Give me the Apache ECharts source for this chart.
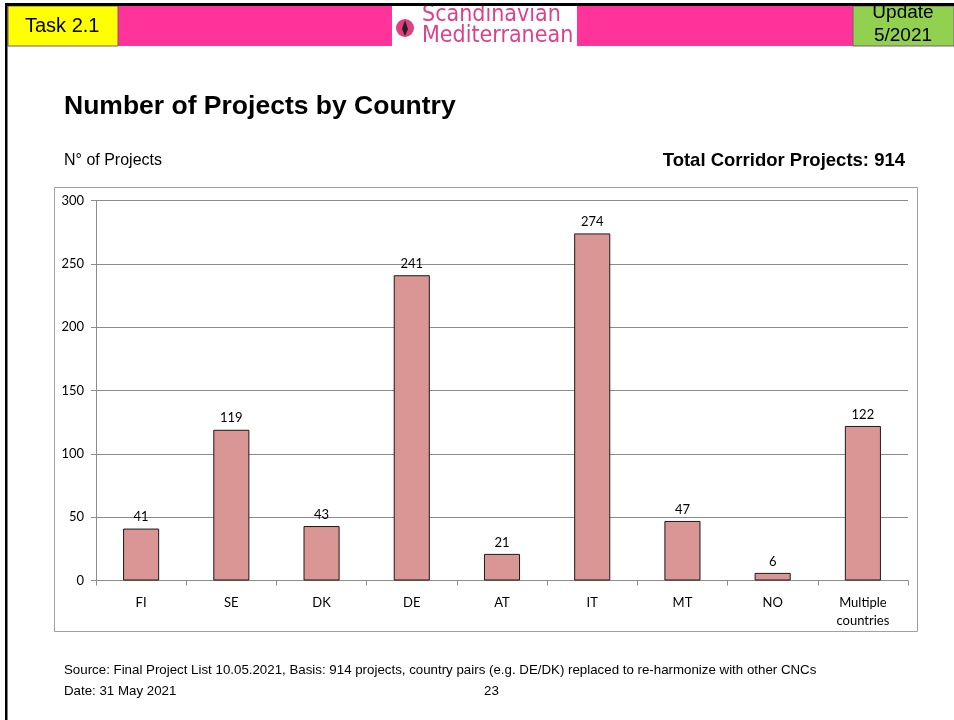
<!DOCTYPE html>
<html>
<head>
<meta charset="utf-8">
<script src="https://cdn.jsdelivr.net/npm/echarts@6/dist/echarts.min.js"></script>
<style>
html,body{margin:0;padding:0;background:#fff;}
#c{width:954px;height:720px;}
</style>
</head>
<body>
<div id="c"></div>
<script>
const categories = ['FI','SE','DK','DE','AT','IT','MT','NO','Multiple\ncountries'];
const projects = [41,119,43,241,21,274,47,6,122];
const yTicks = [0,50,100,150,200,250,300];

const chart = echarts.init(document.getElementById('c'), null, {renderer:'canvas'});
const gridLeft = 96, gridRight = 46, gridTop = 200.5, gridBottom = 139.5;
const lblFont = 'Lato, "Open Sans", sans-serif';

chart.setOption({
  animation:false,
  backgroundColor:'#ffffff',
  grid:{left:gridLeft,right:gridRight,top:gridTop,bottom:gridBottom,containLabel:false},
  xAxis:{
    type:'category',
    data:categories,
    axisLine:{show:true,lineStyle:{color:'#8c8c8c',width:1}},
    axisTick:{show:true,length:5,lineStyle:{color:'#8c8c8c'}},
    axisLabel:{color:'#000',fontFamily:lblFont,fontSize:13,margin:13,lineHeight:18,interval:0}
  },
  yAxis:{
    type:'value',
    min:yTicks[0],max:yTicks[yTicks.length-1],interval:50,
    axisLine:{show:true,lineStyle:{color:'#8c8c8c',width:1}},
    axisTick:{show:true,length:5,lineStyle:{color:'#8c8c8c'}},
    splitLine:{show:true,lineStyle:{color:'#8c8c8c',width:1}},
    axisLabel:{color:'#000',fontFamily:lblFont,fontSize:13,margin:12}
  },
  series:[{
    type:'bar',
    data:projects,
    barWidth:'40%',
    itemStyle:{color:'#D99694',borderColor:'#1a1a1a',borderWidth:1},
    label:{show:true,position:'top',distance:5,color:'#000',fontFamily:lblFont,fontSize:13}
  }],
  graphic:[
    // header band
    {type:'rect',shape:{x:8,y:6,width:946,height:40},style:{fill:'#FF3399'},z:1},
    {type:'rect',shape:{x:8,y:6,width:110,height:40},style:{fill:'#FFFF00',stroke:'#7a5a7a',lineWidth:1},z:2},
    {type:'text',x:25,y:26,style:{text:'Task 2.1',fill:'#000',font:'20px "Liberation Sans", Arial, sans-serif',textVerticalAlign:'middle'},z:3},
    {type:'rect',shape:{x:853,y:6,width:101,height:40},style:{fill:'#92D050',stroke:'#7a5a7a',lineWidth:1},z:2},
    {type:'text',x:903,y:13,style:{text:'Update',fill:'#000',font:'19px "Liberation Sans", Arial, sans-serif',textAlign:'center',textVerticalAlign:'middle'},z:3},
    {type:'text',x:903,y:36,style:{text:'5/2021',fill:'#000',font:'19px "Liberation Sans", Arial, sans-serif',textAlign:'center',textVerticalAlign:'middle'},z:3},
    // logo
    {type:'rect',shape:{x:392,y:6,width:185,height:40},style:{fill:'#ffffff'},z:2},
    {type:'circle',shape:{cx:405,cy:28,r:9},style:{fill:'#E0407F'},z:3},
    {type:'polygon',shape:{points:[[405,20],[408,29],[405,36],[402,29]]},style:{fill:'#222'},z:4},
    {type:'text',x:422,y:15,style:{text:'Scandinavian',fill:'#E0408A',font:'23px "DejaVu Sans Condensed", "Liberation Sans", sans-serif',textVerticalAlign:'middle'},z:3},
    {type:'text',x:422,y:36,style:{text:'Mediterranean',fill:'#E0408A',font:'23px "DejaVu Sans Condensed", "Liberation Sans", sans-serif',textVerticalAlign:'middle'},z:3},
    // page borders (on top)
    {type:'rect',shape:{x:5,y:0,width:949,height:6},style:{fill:'#ffffff'},z:9},
    {type:'rect',shape:{x:5,y:3,width:949,height:3},style:{fill:'#000'},z:10},
    {type:'rect',shape:{x:5,y:3,width:2.5,height:717},style:{fill:'#000'},z:10},
    // titles
    {type:'text',x:64,y:107,style:{text:'Number of Projects by Country',fill:'#000',font:'bold 26.5px "Liberation Sans", Arial, sans-serif',textVerticalAlign:'middle'}},
    {type:'text',x:64,y:161,style:{text:'N° of Projects',fill:'#000',font:'16px "Liberation Sans", Arial, sans-serif',textVerticalAlign:'middle'}},
    {type:'text',x:905,y:161,style:{text:'Total Corridor Projects: 914',fill:'#000',font:'bold 18.5px "Liberation Sans", Arial, sans-serif',textAlign:'right',textVerticalAlign:'middle'}},
    // chart frame
    {type:'rect',shape:{x:54.5,y:187.5,width:863,height:444},style:{fill:'none',stroke:'#a0a0a0',lineWidth:1},z:-1},
    // footer
    {type:'text',x:64,y:670,style:{text:'Source: Final Project List 10.05.2021, Basis: 914 projects, country pairs (e.g. DE/DK) replaced to re-harmonize with other CNCs',fill:'#000',font:'13.3px "Liberation Sans", Arial, sans-serif',textVerticalAlign:'middle'}},
    {type:'text',x:64,y:691,style:{text:'Date: 31 May 2021',fill:'#000',font:'13.3px "Liberation Sans", Arial, sans-serif',textVerticalAlign:'middle'}},
    {type:'text',x:484,y:691,style:{text:'23',fill:'#000',font:'13.3px "Liberation Sans", Arial, sans-serif',textVerticalAlign:'middle'}}
  ]
});
</script>
</body>
</html>
